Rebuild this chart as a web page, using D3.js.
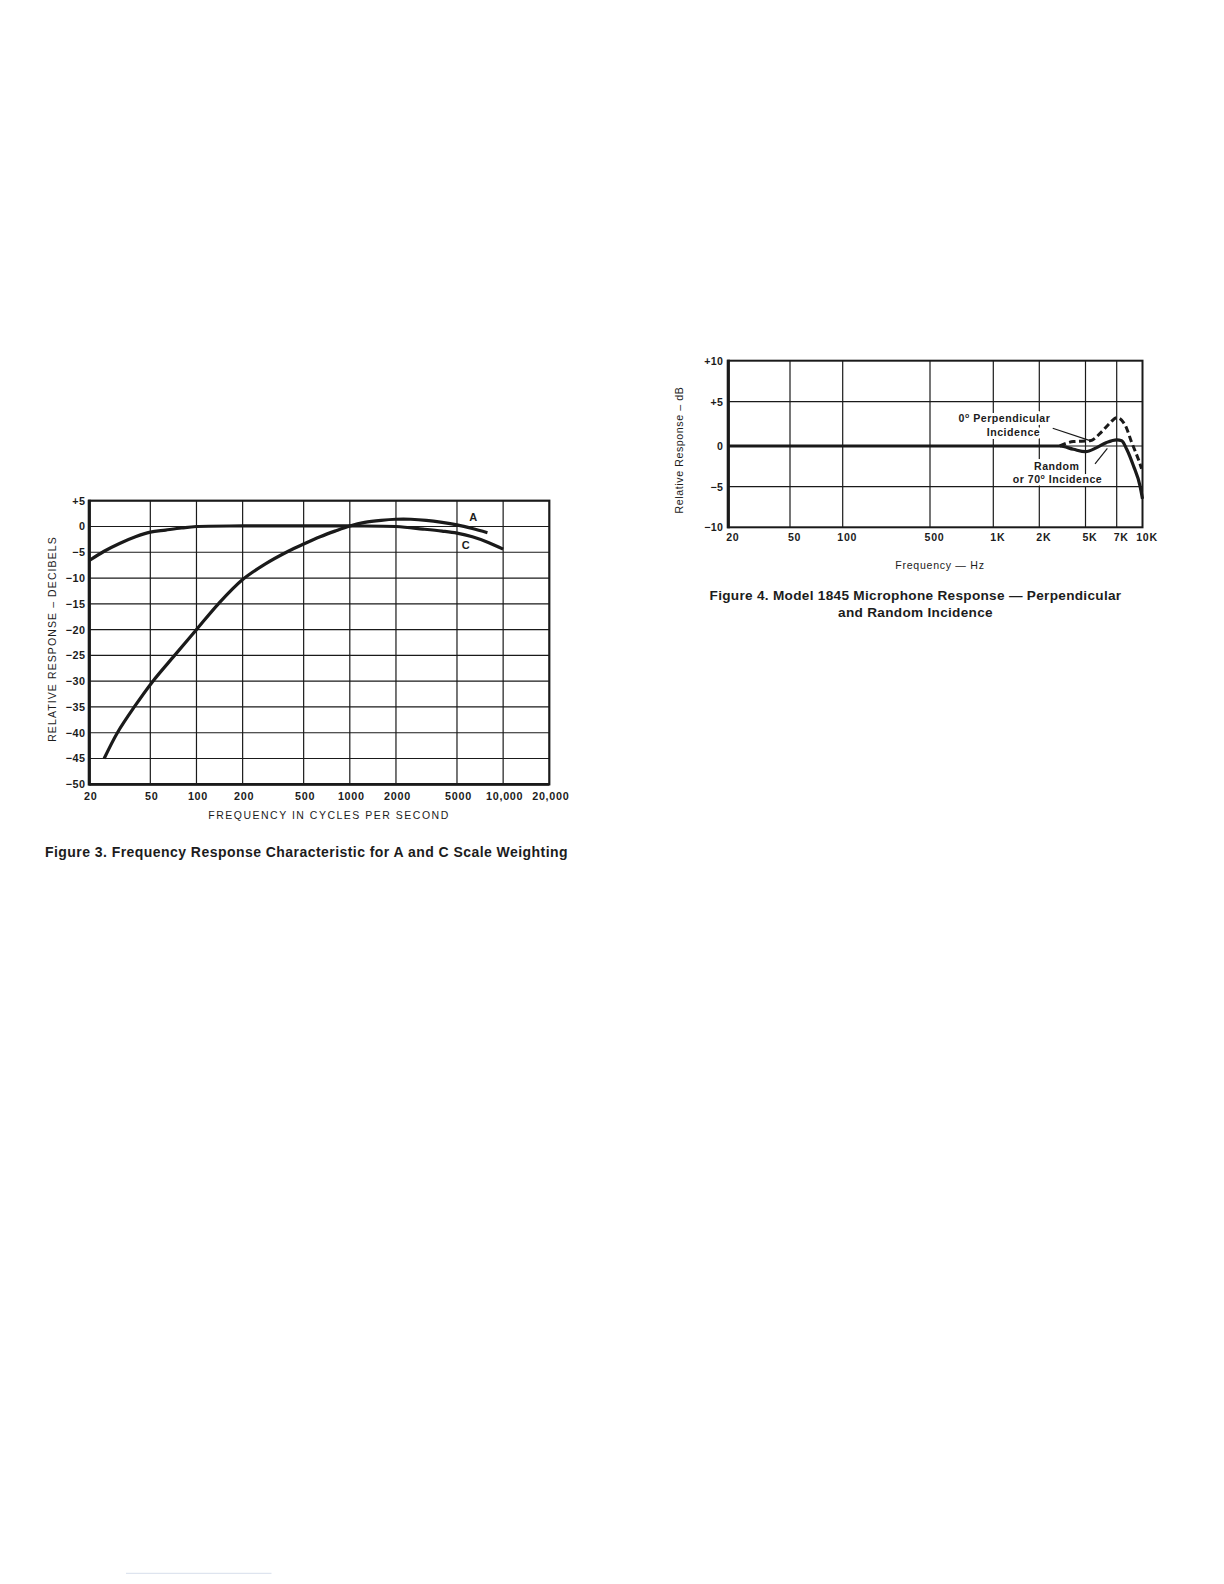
<!DOCTYPE html>
<html><head><meta charset="utf-8">
<script src="https://cdn.jsdelivr.net/npm/d3@7"></script>
<style>
html,body{margin:0;padding:0;background:#fff;}
svg{display:block;}
text{font-family:"Liberation Sans", Arial, Helvetica, sans-serif; fill:#1c1c1c;}
text.halo{fill:#fff;stroke:#fff;stroke-width:6px;stroke-linejoin:round;}
</style></head><body>
<svg id="c" width="1224" height="1584"></svg>
<script>
// ---------- Figure 3 data ----------
const fig3FreqA = [25, 30.5, 39.3, 52, 72, 100, 139, 200, 280, 397, 500, 640, 800, 1000, 1250, 1600, 2000, 2500, 3150, 4000, 5000, 6300, 7900];
const fig3DbA   = [-45, -40, -35, -30, -25, -20, -15, -10.3, -7.3, -4.8, -3.4, -2.0, -0.9, 0.1, 0.8, 1.2, 1.4, 1.4, 1.2, 0.8, 0.3, -0.4, -1.2];
const fig3FreqC = [20, 25, 31.5, 40, 50, 63, 80, 100, 200, 500, 1000, 2000, 3000, 4000, 5000, 6300, 8000, 10000];
const fig3DbC   = [-6.6, -4.8, -3.3, -2.0, -1.1, -0.7, -0.3, 0.0, 0.1, 0.1, 0.1, 0.0, -0.5, -0.9, -1.3, -2.0, -3.1, -4.4];
const fig3XTicks = [20, 50, 100, 200, 500, 1000, 2000, 5000, 10000, 20000];
const fig3XTickLabels = ["20", "50", "100", "200", "500", "1000", "2000", "5000", "10,000", "20,000"];
const fig3YTicks = [5, 0, -5, -10, -15, -20, -25, -30, -35, -40, -45, -50];
const fig3YTickLabels = ["+5", "0", "\u22125", "\u221210", "\u221215", "\u221220", "\u221225", "\u221230", "\u221235", "\u221240", "\u221245", "\u221250"];

// ---------- Figure 4 data ----------
const fig4FreqRandom = [20, 3000, 3930, 5000, 5640, 6280, 7000, 7500, 8040, 8810, 9660, 10000];
const fig4DbRandom   = [0, 0, -0.4, -0.7, -0.2, 0.4, 0.7, 0.6, -0.4, -2.4, -4.9, -6.5];
const fig4FreqPerp   = [3000, 3930, 5250, 5950, 6510, 7000, 7850, 8610, 9430, 9880];
const fig4DbPerp     = [0, 0.5, 0.6, 1.6, 2.6, 3.2, 2.4, 0.4, -1.6, -2.8];
const fig4XTicks = [20, 50, 100, 500, 1000, 2000, 5000, 7000, 10000];
const fig4XTickLabels = ["20", "50", "100", "500", "1K", "2K", "5K", "7K", "10K"];
const fig4YTicks = [10, 5, 0, -5, -10];
const fig4YTickLabels = ["+10", "+5", "0", "\u22125", "\u221210"];

const svg = d3.select("#c");
const ink = "#1a1a1a";
const FONT = '"Liberation Sans", Arial, sans-serif';

// ================= Figure 3 =================
(function(){
  const L = 89.3, R = 549.3, T = 500.7, B = 784.3;
  const x = d3.scaleLog().domain([20, 20000]).range([L, R]);
  const y = d3.scaleLinear().domain([-50, 5]).range([B, T]);
  const g = svg.append("g");

  g.selectAll("line.vg").data(fig3XTicks.slice(1, -1)).join("line")
    .attr("x1", d => x(d)).attr("x2", d => x(d)).attr("y1", T).attr("y2", B)
    .attr("stroke", ink).attr("stroke-width", 1.2);
  g.selectAll("line.hg").data(fig3YTicks.slice(1, -1)).join("line")
    .attr("x1", L).attr("x2", R).attr("y1", d => y(d)).attr("y2", d => y(d))
    .attr("stroke", ink).attr("stroke-width", 1.2);

  g.append("rect").attr("x", L).attr("y", T).attr("width", R - L).attr("height", B - T)
    .attr("fill", "none").attr("stroke", ink).attr("stroke-width", 2.2);
  g.append("line").attr("x1", L).attr("x2", L).attr("y1", T - 1).attr("y2", B + 1.2)
    .attr("stroke", ink).attr("stroke-width", 3.2);
  g.append("line").attr("x1", L).attr("x2", R).attr("y1", B).attr("y2", B)
    .attr("stroke", ink).attr("stroke-width", 2.8);

  const line = d3.line().x(d => x(d[0])).y(d => y(d[1])).curve(d3.curveCatmullRom.alpha(0.5));
  g.append("path").datum(d3.zip(fig3FreqA, fig3DbA)).attr("d", line)
    .attr("fill", "none").attr("stroke", ink).attr("stroke-width", 3.2);
  g.append("path").datum(d3.zip(fig3FreqC, fig3DbC)).attr("d", line)
    .attr("fill", "none").attr("stroke", ink).attr("stroke-width", 3.2);

  g.append("text").attr("x", 473.3).attr("y", 521).attr("text-anchor", "middle")
    .attr("font-size", 11).attr("font-weight", "bold").text("A");
  g.append("text").attr("x", 465.7).attr("y", 549).attr("text-anchor", "middle")
    .attr("font-size", 11).attr("font-weight", "bold").text("C");

  const xa = g.append("g").attr("transform", `translate(1,${B})`)
    .call(d3.axisBottom(x).tickValues(fig3XTicks).tickSize(0).tickPadding(8)
      .tickFormat((d, i) => fig3XTickLabels[i]));
  xa.select(".domain").remove();
  xa.selectAll("text").attr("font-size", 10.8).attr("font-weight", "bold")
    .attr("letter-spacing", 0.7).attr("fill", ink).style("font-family", FONT);

  const ya = g.append("g").attr("transform", `translate(${L},0)`)
    .call(d3.axisLeft(y).tickValues(fig3YTicks).tickSize(0).tickPadding(4)
      .tickFormat((d, i) => fig3YTickLabels[i]));
  ya.select(".domain").remove();
  ya.selectAll("text").attr("font-size", 10.8).attr("font-weight", "bold")
    .attr("letter-spacing", 0.4).attr("fill", ink).style("font-family", FONT);

  g.append("text").attr("x", 329).attr("y", 818.5).attr("text-anchor", "middle")
    .attr("font-size", 10.5).attr("letter-spacing", 1.5).text("FREQUENCY IN CYCLES PER SECOND");
  g.append("text").attr("transform", "translate(55.5,639) rotate(-90)").attr("text-anchor", "middle")
    .attr("font-size", 10.5).attr("letter-spacing", 1.1).text("RELATIVE RESPONSE \u2013 DECIBELS");

  g.append("text").attr("x", 306.5).attr("y", 856.5).attr("text-anchor", "middle")
    .attr("font-size", 14).attr("font-weight", "bold").attr("letter-spacing", 0.45)
    .text("Figure 3. Frequency Response Characteristic for A and C Scale Weighting");
})();

// ================= Figure 4 =================
(function(){
  const L = 728.3, R = 1142.5, T = 360.7, B = 527.3;
  // hand-drawn log axis: piecewise log scale through each printed grid line
  const x = d3.scaleLog().domain(fig4XTicks)
    .range([L, 790, 842.7, 930, 993.3, 1039.3, 1085.5, 1116.7, R]);
  const y = d3.scaleLinear().domain([-10, -5, 0, 5, 10]).range([B, 486.7, 446, 401.7, T]);
  const g = svg.append("g");

  g.selectAll("line.vg").data(fig4XTicks.slice(1, -1)).join("line")
    .attr("x1", d => x(d)).attr("x2", d => x(d)).attr("y1", T).attr("y2", B)
    .attr("stroke", ink).attr("stroke-width", 1.2);
  g.selectAll("line.hg").data(fig4YTicks.slice(1, -1)).join("line")
    .attr("x1", L).attr("x2", R).attr("y1", d => y(d)).attr("y2", d => y(d))
    .attr("stroke", ink).attr("stroke-width", 1.2);

  g.append("rect").attr("x", L).attr("y", T).attr("width", R - L).attr("height", B - T)
    .attr("fill", "none").attr("stroke", ink).attr("stroke-width", 2);
  g.append("line").attr("x1", L).attr("x2", L).attr("y1", T - 1).attr("y2", B + 1)
    .attr("stroke", ink).attr("stroke-width", 3.2);

  // annotation labels knocked out of the grid: white halo layer, then ink layer
  const haloLayer = g.append("g");
  const inkLayer = g.append("g");
  const annotations = [
    [1004.5, 422, "0", "o", "  Perpendicular"],
    [1013.5, 436, "Incidence"],
    [1056.7, 469.5, "Random"],
    [1057.5, 483.3, "or 70", "o", " Incidence"]
  ];
  function label(layer, cls, a) {
    const [cx, cy, pre, sup, post] = a;
    const t = layer.append("text").attr("class", cls).attr("x", cx).attr("y", cy)
      .attr("text-anchor", "middle")
      .attr("font-size", 10.6).attr("font-weight", "bold").attr("letter-spacing", 0.5);
    t.append("tspan").text(pre);
    if (sup) {
      t.append("tspan").attr("dy", -4.5).attr("font-size", 7).text(sup);
      t.append("tspan").attr("dy", 4.5).text(post);
    }
  }
  annotations.forEach(a => { label(haloLayer, "halo", a); label(inkLayer, "ink", a); });

  const line = d3.line().x(d => x(d[0])).y(d => y(d[1])).curve(d3.curveMonotoneX);
  g.append("path").datum(d3.zip(fig4FreqPerp, fig4DbPerp)).attr("d", line)
    .attr("fill", "none").attr("stroke", ink).attr("stroke-width", 3)
    .attr("stroke-dasharray", "6.5,3.5");
  g.append("path").datum(d3.zip(fig4FreqRandom, fig4DbRandom)).attr("d", line)
    .attr("fill", "none").attr("stroke", ink).attr("stroke-width", 3.2);

  const leaders = [[[2610, 2.0], [5250, 0.6]], [[5540, -2.2], [6330, -0.3]]];
  g.selectAll("line.ld").data(leaders).join("line")
    .attr("x1", d => x(d[0][0])).attr("y1", d => y(d[0][1]))
    .attr("x2", d => x(d[1][0])).attr("y2", d => y(d[1][1]))
    .attr("stroke", ink).attr("stroke-width", 1.2);

  const xa = g.append("g").attr("transform", `translate(4,${B})`)
    .call(d3.axisBottom(x).tickValues(fig4XTicks).tickSize(0).tickPadding(6)
      .tickFormat((d, i) => fig4XTickLabels[i]));
  xa.select(".domain").remove();
  xa.selectAll("text").attr("font-size", 10.6).attr("font-weight", "bold")
    .attr("letter-spacing", 0.7).attr("fill", ink).style("font-family", FONT);

  const ya = g.append("g").attr("transform", `translate(${L},0)`)
    .call(d3.axisLeft(y).tickValues(fig4YTicks).tickSize(0).tickPadding(5)
      .tickFormat((d, i) => fig4YTickLabels[i]));
  ya.select(".domain").remove();
  ya.selectAll("text").attr("font-size", 10.6).attr("font-weight", "bold")
    .attr("letter-spacing", 0.4).attr("fill", ink).style("font-family", FONT);

  g.append("text").attr("transform", "translate(682.5,450) rotate(-90)").attr("text-anchor", "middle")
    .attr("font-size", 10.6).attr("letter-spacing", 0.6).text("Relative Response \u2013 dB");
  g.append("text").attr("x", 940).attr("y", 568.5).attr("text-anchor", "middle")
    .attr("font-size", 10.6).attr("letter-spacing", 0.7).text("Frequency \u2014 Hz");

  g.append("text").attr("x", 915.5).attr("y", 599.5).attr("text-anchor", "middle")
    .attr("font-size", 13.6).attr("font-weight", "bold").attr("letter-spacing", 0.3)
    .text("Figure 4. Model 1845 Microphone Response \u2014 Perpendicular");
  g.append("text").attr("x", 915.5).attr("y", 617).attr("text-anchor", "middle")
    .attr("font-size", 13.6).attr("font-weight", "bold").attr("letter-spacing", 0.3)
    .text("and Random Incidence");
})();

// faint footnote rule
svg.append("line").attr("x1", 126).attr("x2", 271.5).attr("y1", 1573.3).attr("y2", 1573.3)
  .attr("stroke", "#d6deec").attr("stroke-width", 1);
</script>
</body></html>
